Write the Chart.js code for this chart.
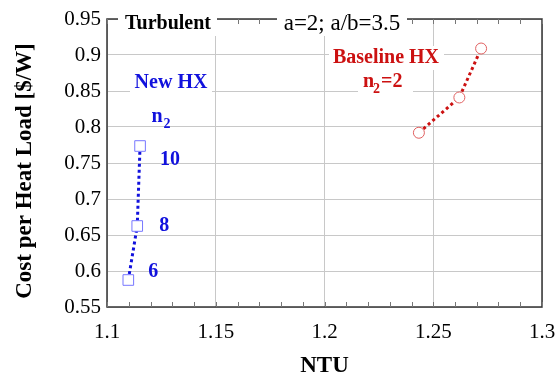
<!DOCTYPE html>
<html lang="en">
<head>
<meta charset="UTF-8">
<title>Cost per Heat Load vs NTU</title>
<style>
  html, body { margin: 0; padding: 0; background: #fff; }
  #wrap { width: 560px; height: 382px; }
</style>
</head>
<body>
<div id="wrap"><canvas id="grafico"></canvas></div>

<script src="https://cdn.jsdelivr.net/npm/chart.js"></script>
<script>
// dados
const newNtu = [1.1098, 1.1139, 1.1152]
const newCost = [0.5875, 0.6625, 0.7736]
const newN2 = ['6', '8', '10']
const baseNtu = [1.2434, 1.2620, 1.2720]
const baseCost = [0.792, 0.841, 0.909]
const xTicks = [1.1, 1.15, 1.2, 1.25, 1.3]
const yTicks = [0.55, 0.6, 0.65, 0.7, 0.75, 0.8, 0.85, 0.9, 0.95]

const serif = '"Liberation Serif", "Times New Roman", Times, serif'
const azul = '#1111dd'
const vermelho = '#cc1111'

Chart.defaults.font.family = serif

// moldura, textos, caixas e ticks menores
const extras = {
  id: 'extras',
  beforeDatasetsDraw(chart) {
    const c = chart.ctx, a = chart.chartArea
    const xs = chart.scales.x
    c.save()
    // moldura
    c.strokeStyle = '#333'
    c.lineWidth = 1.5
    c.strokeRect(a.left, a.top, a.right - a.left, a.bottom - a.top)
    // minor ticks em x
    c.strokeStyle = '#777'
    c.lineWidth = 1
    for (let i = 0; i <= 20; i++) {
      const px = Math.round(xs.getPixelForValue(1.1 + i * 0.01)) + 0.5
      c.beginPath()
      c.moveTo(px, a.top); c.lineTo(px, a.top + 5)
      c.moveTo(px, a.bottom); c.lineTo(px, a.bottom - 5)
      c.stroke()
    }
    // caixas brancas
    c.fillStyle = '#fff'
    c.fillRect(118, 12, 99, 24)
    c.fillRect(277, 12, 130, 24)
    c.fillRect(130, 71, 82, 24)
    c.fillRect(329, 46, 115, 24)
    c.fillRect(358, 70, 55, 26)

    c.textAlign = 'center'
    c.textBaseline = 'middle'
    c.fillStyle = '#000'
    c.font = 'bold 20px ' + serif
    c.fillText('Turbulent', 168, 24)
    c.font = '23px ' + serif
    c.fillText('a=2; a/b=3.5', 342, 24)

    c.fillStyle = azul
    c.font = 'bold 20px ' + serif
    c.fillText('New HX', 171, 83)
    c.fillText('n', 157, 117)
    c.font = 'bold 14px ' + serif
    c.fillText('2', 167, 124)
    c.font = 'bold 20px ' + serif
    const offs = [[25, -8], [27, 0], [30, 14]]
    newN2.forEach((t, i) => {
      const px = xs.getPixelForValue(newNtu[i]) + offs[i][0]
      const py = chart.scales.y.getPixelForValue(newCost[i]) + offs[i][1]
      c.fillText(t, px, py)
    })

    c.fillStyle = vermelho
    c.fillText('Baseline HX', 386, 58)
    c.textAlign = 'left'
    c.fillText('n', 363, 82)
    c.font = 'bold 14px ' + serif
    c.fillText('2', 373, 89)
    c.font = 'bold 20px ' + serif
    c.fillText('=2', 381, 82)
    c.restore()
  },
  afterDraw(chart) {
    const c = chart.ctx, a = chart.chartArea
    c.save()
    c.fillStyle = '#000'
    c.textAlign = 'center'
    c.textBaseline = 'middle'
    c.font = 'bold 23px ' + serif
    c.fillText('NTU', (a.left + a.right) / 2, 366)
    c.translate(25, 171)
    c.rotate(-Math.PI / 2)
    c.font = 'bold 23px ' + serif
    c.fillText('Cost per Heat Load [$/W]', 0, 0)
    c.restore()
  }
}

const desenhar = () => {
  const ctx = document.getElementById('grafico')
  new Chart(ctx, {
    type: 'scatter',
    data: {
      datasets: [{
        label: 'New HX',
        data: newNtu.map((v, i) => ({ x: v, y: newCost[i] })),
        showLine: true,
        borderColor: azul,
        borderWidth: 3,
        borderDash: [3, 3],
        pointStyle: 'rect',
        pointRadius: 7.5,
        pointBorderWidth: 1,
        pointBorderColor: '#7777ff',
        pointBackgroundColor: '#fff'
      }, {
        label: 'Baseline HX',
        data: baseNtu.map((v, i) => ({ x: v, y: baseCost[i] })),
        showLine: true,
        borderColor: vermelho,
        borderWidth: 3,
        borderDash: [3, 3],
        pointStyle: 'circle',
        pointRadius: 5.5,
        pointBorderWidth: 1,
        pointBorderColor: '#e06060',
        pointBackgroundColor: '#fff'
      }]
    },
    options: {
      responsive: true,
      maintainAspectRatio: false,
      animation: false,
      events: [],
      layout: { padding: { top: 19, right: 18, left: 0, bottom: 0 } },
      plugins: { legend: { display: false }, tooltip: { enabled: false } },
      scales: {
        x: {
          type: 'linear', min: 1.1, max: 1.3,
          afterBuildTicks: s => { s.ticks = xTicks.map(v => ({ value: v })) },
          afterFit: s => { s.height = 75; s.paddingLeft = 0; s.paddingRight = 0 },
          ticks: {
            color: '#000', padding: 13,
            font: { family: serif, size: 21 },
            callback: v => String(+v.toFixed(2))
          },
          grid: { color: '#c8c8c8', drawTicks: false },
          border: { display: false }
        },
        y: {
          type: 'linear', min: 0.55, max: 0.95,
          afterBuildTicks: s => { s.ticks = yTicks.map(v => ({ value: v })) },
          afterFit: s => { s.width = 107; s.paddingTop = 0; s.paddingBottom = 0 },
          ticks: {
            color: '#000', padding: 6,
            font: { family: serif, size: 21 },
            callback: v => String(+v.toFixed(2))
          },
          grid: { color: '#c8c8c8', drawTicks: false },
          border: { display: false }
        }
      }
    },
    plugins: [extras]
  })
}

Promise.all([
  document.fonts.load('21px "Liberation Serif"'),
  document.fonts.load('bold 21px "Liberation Serif"')
]).then(desenhar, desenhar)
</script>
</body>
</html>
